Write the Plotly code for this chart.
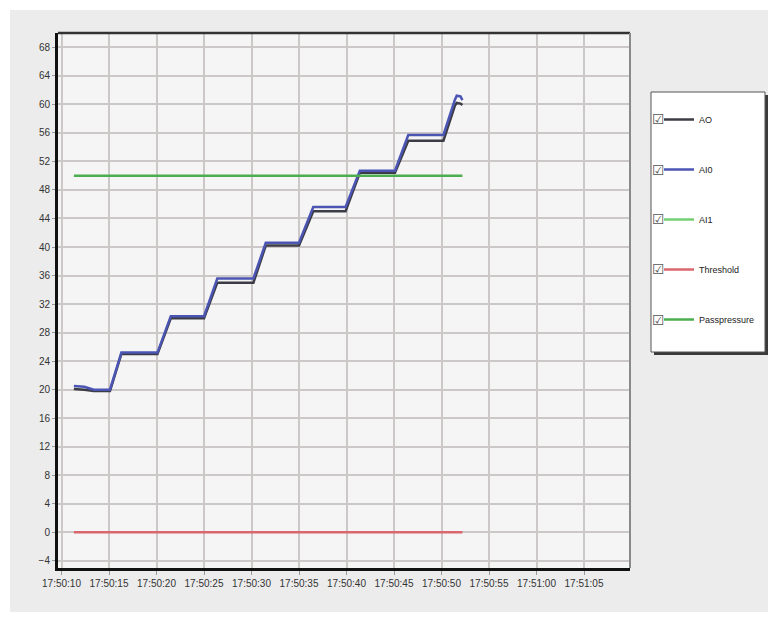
import plotly.graph_objects as go

# ---- data ----
day = "2024-01-01 "
step_times = ["17:50:11.3", "17:50:12.4", "17:50:13.4", "17:50:15.1", "17:50:16.3",
              "17:50:20.1", "17:50:21.5", "17:50:25.0", "17:50:26.4", "17:50:30.2",
              "17:50:31.5", "17:50:35.0", "17:50:36.5", "17:50:39.9", "17:50:41.4",
              "17:50:45.1", "17:50:46.5", "17:50:50.2", "17:50:51.4", "17:50:51.6",
              "17:50:52.0", "17:50:52.2"]
ai0_values = [20.5, 20.4, 20.0, 20.0, 25.2, 25.2, 30.3, 30.3, 35.6, 35.6, 40.6, 40.6,
              45.6, 45.6, 50.7, 50.7, 55.7, 55.7, 60.6, 61.2, 61.1, 60.6]
ao_values = [20.1, 20.0, 19.8, 19.8, 25.0, 25.0, 30.0, 30.0, 35.0, 35.0, 40.2, 40.2,
             45.0, 45.0, 50.4, 50.4, 54.9, 54.9, 59.8, 60.2, 60.1, 59.9]
flat_times = ["17:50:11.3", "17:50:52.2"]
threshold_values = [0, 0]
passpressure_values = [50, 50]
ai1_times = ["17:50:11.3"]
ai1_values = [None]

series_names = ["AO", "AI0", "AI1", "Threshold", "Passpressure"]
x_tick_labels = ["17:50:10", "17:50:15", "17:50:20", "17:50:25", "17:50:30", "17:50:35",
                 "17:50:40", "17:50:45", "17:50:50", "17:50:55", "17:51:00", "17:51:05"]
y_tick_values = list(range(-4, 69, 4))


def ts(lst):
    return [day + t for t in lst]


fig = go.Figure()
styles = [
    (series_names[0], ts(step_times), ao_values, "#3c3c46", 2.5),
    (series_names[1], ts(step_times), ai0_values, "#4b55b4", 2.5),
    (series_names[2], ts(ai1_times), ai1_values, "#74cf74", 2.5),
    (series_names[3], ts(flat_times), threshold_values, "#d9676d", 2.5),
    (series_names[4], ts(flat_times), passpressure_values, "#4cae50", 2.5),
]
for name, xs, ys, color, w in styles:
    fig.add_trace(go.Scatter(x=xs, y=ys, mode="lines", name=name, legendgroup=name,
                             line=dict(color=color, width=w)))

# page is offset by the 8px body margin; work in page pixels and convert
OFF = 8
W, H = 768, 612
L, T = 58 - OFF, 33 - OFF
R = W - (630 - OFF)
B = H - (568 - OFF)
pw, ph = W - L - R, H - T - B


def px_x(p):
    return (p - OFF - L) / pw


def px_y(p):
    return (H - B - (p - OFF)) / ph


shapes = [
    # white outer strips
    dict(type="rect", xref="paper", yref="paper", x0=px_x(8), x1=px_x(W + OFF), y0=px_y(10), y1=px_y(8),
         fillcolor="white", line_width=0, layer="below"),
    dict(type="rect", xref="paper", yref="paper", x0=px_x(8), x1=px_x(10), y0=px_y(H + OFF), y1=px_y(8),
         fillcolor="white", line_width=0, layer="below"),
    dict(type="rect", xref="paper", yref="paper", x0=px_x(8), x1=px_x(W + OFF), y0=px_y(H + OFF), y1=px_y(612),
         fillcolor="white", line_width=0, layer="below"),
    # top and right frame
    dict(type="line", xref="paper", yref="paper", x0=0, x1=1, y0=1, y1=1,
         line=dict(color="#333333", width=2.5)),
    dict(type="line", xref="paper", yref="paper", x0=1, x1=1, y0=0, y1=1,
         line=dict(color="#8a8a8a", width=2)),
    # legend shadow and box
    dict(type="rect", xref="paper", yref="paper", x0=px_x(654), x1=px_x(768), y0=px_y(355), y1=px_y(95),
         fillcolor="#3a3a3a", line_width=0),
    dict(type="rect", xref="paper", yref="paper", x0=px_x(651), x1=px_x(765), y0=px_y(352), y1=px_y(92),
         fillcolor="white", line=dict(color="#555555", width=1)),
]

annotations = []
for yy in [119, 170, 219, 269, 320]:
    annotations.append(dict(xref="paper", yref="paper", x=px_x(658), y=px_y(yy),
                            xanchor="center", yanchor="middle", text="☑",
                            showarrow=False, font=dict(size=14, color="#555555",
                                                       family="DejaVu Sans")))

fig.update_layout(
    width=W, height=H,
    margin=dict(l=L, r=R, t=T, b=B, pad=0),
    paper_bgcolor="#ececec",
    plot_bgcolor="#f5f5f5",
    font=dict(family="Liberation Sans, Arial, sans-serif", size=10, color="#333333"),
    showlegend=True,
    legend=dict(x=px_x(659), y=px_y(105), xanchor="left", yanchor="top",
                bgcolor="rgba(0,0,0,0)", borderwidth=0, tracegroupgap=31,
                font=dict(size=9, color="#222222")),
    shapes=shapes,
    annotations=annotations,
    xaxis=dict(
        type="date",
        range=[day + "17:50:09.63", day + "17:51:09.84"],
        tickvals=[day + t for t in x_tick_labels],
        ticktext=x_tick_labels,
        showgrid=True, gridcolor="#cdc8c8", gridwidth=2,
        showline=True, linecolor="#111111", linewidth=3,
        ticks="outside", ticklen=4, tickcolor="#999999",
        tickfont=dict(size=10, color="#333333"),
        zeroline=False,
    ),
    yaxis=dict(
        range=[-5, 70],
        tickvals=y_tick_values,
        showgrid=True, gridcolor="#cdc8c8", gridwidth=2,
        showline=True, linecolor="#111111", linewidth=3,
        ticks="outside", ticklen=3, tickcolor="#999999",
        tickfont=dict(size=10, color="#333333"),
        zeroline=False,
    ),
)

fig.write_html("out.html")
